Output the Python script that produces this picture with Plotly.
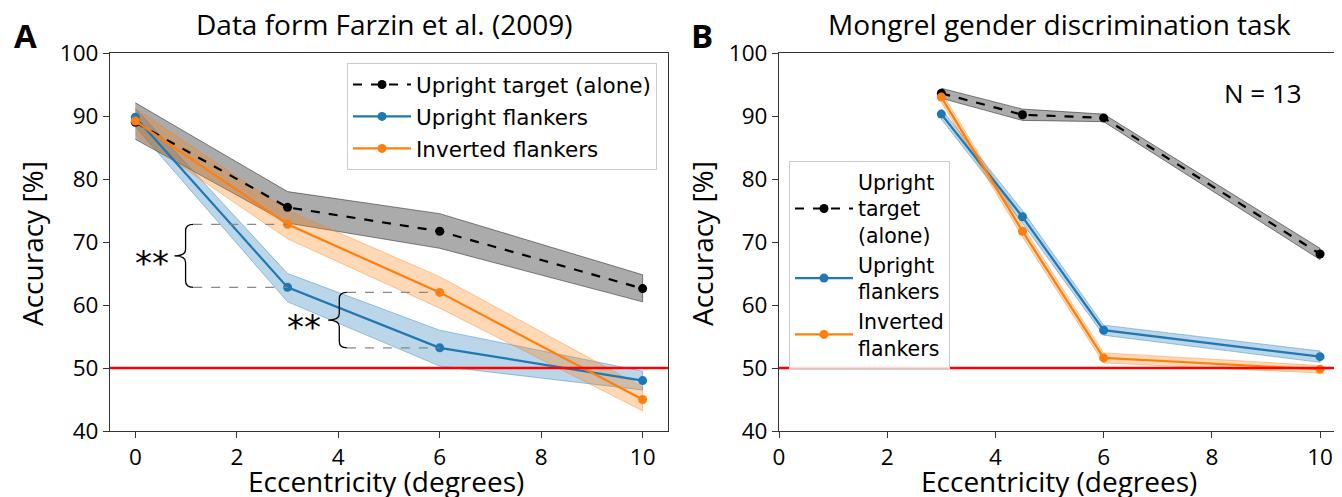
import plotly.graph_objects as go

# ---------------- data ----------------
# Panel A (Farzin et al. 2009)
ecc_a = [0, 3, 6, 10]
a_target_mean = [89.0, 75.5, 71.7, 62.6]
a_target_lo = [86.3, 73.0, 69.0, 60.5]
a_target_hi = [92.1, 78.0, 74.5, 64.8]
a_upright_mean = [89.8, 62.8, 53.2, 48.0]
a_upright_lo = [88.3, 60.5, 50.3, 46.5]
a_upright_hi = [91.2, 65.0, 56.0, 49.5]
a_inverted_mean = [89.2, 72.8, 62.0, 45.0]
a_inverted_lo = [87.0, 70.5, 59.5, 43.2]
a_inverted_hi = [91.2, 75.0, 64.5, 47.0]

# Panel B (Mongrel gender discrimination)
ecc_b = [3, 4.5, 6, 10]
b_target_mean = [93.6, 90.2, 89.7, 68.1]
b_target_lo = [92.8, 89.3, 89.1, 67.2]
b_target_hi = [94.4, 91.1, 90.3, 69.0]
b_upright_mean = [90.3, 74.0, 56.0, 51.8]
b_upright_lo = [89.5, 73.0, 55.2, 50.9]
b_upright_hi = [91.1, 75.0, 56.8, 52.7]
b_inverted_mean = [93.0, 71.7, 51.6, 49.8]
b_inverted_lo = [92.2, 70.8, 50.8, 49.2]
b_inverted_hi = [93.8, 72.6, 52.4, 50.4]

chance = 50
x_ticks = [0, 2, 4, 6, 8, 10]
y_ticks = [40, 50, 60, 70, 80, 90, 100]

names_a = ["Upright target (alone)", "Upright flankers", "Inverted flankers"]
names_b = ["Upright<br>target<br>(alone)", "Upright<br>flankers", "Inverted<br>flankers"]

# ---------------- styling ----------------
BLUE = "#1f77b4"
ORANGE = "#ff7f0e"
BLACK = "#000000"
band_fill = {BLACK: "rgba(0,0,0,0.33)", BLUE: "rgba(31,119,180,0.3)", ORANGE: "rgba(255,127,14,0.3)"}
band_edge = {BLACK: "rgba(0,0,0,0.45)", BLUE: "rgba(31,119,180,0.4)", ORANGE: "rgba(255,127,14,0.4)"}
TICK_FONT = dict(family="Open Sans", size=22.5, color="black")
TITLE_FONT = dict(family="Open Sans", size=28, color="black")
LEG_FONT = dict(family="DejaVu Sans", size=21.5, color="black")
LEG2_FONT = dict(family="DejaVu Sans", size=20.5, color="black")

# page body has an 8px margin: build the figure 8px smaller and shift coordinates
OFF = 8
W, H = 1342 - OFF, 497 - OFF


def px(v):
    return (v - OFF) / W


def py(v):
    return 1 - (v - OFF) / H


fig = go.Figure()


def add_panel(xs, series, names, xa, ya, legend):
    for (mean, lo, hi, color, dash) in series:
        fig.add_trace(go.Scatter(
            x=list(xs) + list(xs)[::-1], y=list(hi) + list(lo)[::-1],
            fill="toself", fillcolor=band_fill[color],
            line=dict(color=band_edge[color], width=1),
            mode="lines", hoverinfo="skip", showlegend=False,
            xaxis=xa, yaxis=ya))
    for i, (mean, lo, hi, color, dash) in enumerate(series):
        fig.add_trace(go.Scatter(
            x=xs, y=mean, mode="lines+markers", name=names[i],
            line=dict(color=color, width=2.2, dash=dash),
            marker=dict(color=color, size=9),
            legend=legend, legendgroup=f"{legend}{i}",
            xaxis=xa, yaxis=ya))


add_panel(ecc_a, [
    (a_target_mean, a_target_lo, a_target_hi, BLACK, "dash"),
    (a_upright_mean, a_upright_lo, a_upright_hi, BLUE, "solid"),
    (a_inverted_mean, a_inverted_lo, a_inverted_hi, ORANGE, "solid"),
], names_a, "x", "y", "legend")

add_panel(ecc_b, [
    (b_target_mean, b_target_lo, b_target_hi, BLACK, "dash"),
    (b_upright_mean, b_upright_lo, b_upright_hi, BLUE, "solid"),
    (b_inverted_mean, b_inverted_lo, b_inverted_hi, ORANGE, "solid"),
], names_b, "x2", "y2", "legend2")

shapes = []
for xr, yr in [("x domain", "y"), ("x2 domain", "y2")]:
    shapes.append(dict(type="line", xref=xr, yref=yr, x0=0, x1=1, y0=chance, y1=chance,
                       line=dict(color="red", width=2.5), layer="above"))


def brace(x0, ytop, ybot, xdata, tip=0.22, r=1.0, ext=0.15):
    ymid = (ytop + ybot) / 2
    xs = x0 + ext
    p = (f"M{xs},{ytop} Q{x0},{ytop} {x0},{ytop - r} L{x0},{ymid + r} "
         f"Q{x0},{ymid} {x0 - tip},{ymid} Q{x0},{ymid} {x0},{ymid - r} "
         f"L{x0},{ybot + r} Q{x0},{ybot} {xs},{ybot}")
    shapes.append(dict(type="path", path=p, xref="x", yref="y",
                       line=dict(color="black", width=1.3), layer="above"))
    for yv in (ytop, ybot):
        shapes.append(dict(type="line", xref="x", yref="y", x0=xs, x1=xdata, y0=yv, y1=yv,
                           line=dict(color="#888888", width=1.4, dash="dash"), layer="above"))
    return ymid


ym1 = brace(0.99, a_inverted_mean[1], a_upright_mean[1], ecc_a[1])
ym2 = brace(4.02, a_inverted_mean[2], a_upright_mean[2], ecc_a[2])


def pa(text, x, y, font, angle=0):
    return dict(text=text, x=px(x), y=py(y), xref="paper", yref="paper", showarrow=False,
                font=font, xanchor="center", yanchor="middle", textangle=angle)


STAR_FONT = dict(family="DejaVu Sans", size=34, color="black")
BIG_FONT = dict(family="Open Sans", size=33, color="black")
annotations = [
    dict(text="**", x=0.33, y=ym1, xref="x", yref="y", showarrow=False, font=STAR_FONT, yshift=-7),
    dict(text="**", x=3.32, y=ym2, xref="x", yref="y", showarrow=False, font=STAR_FONT, yshift=-7),
    pa("Data form Farzin et al. (2009)", 384, 24, TITLE_FONT),
    pa("Mongrel gender discrimination task", 1059, 24, TITLE_FONT),
    pa("<b>A</b>", 25, 36, BIG_FONT),
    pa("<b>B</b>", 702, 36, BIG_FONT),
    pa("N = 13", 1263, 93, dict(family="Open Sans", size=26, color="black")),
    pa("Eccentricity (degrees)", 386, 481, TITLE_FONT),
    pa("Eccentricity (degrees)", 1059, 481, TITLE_FONT),
    pa("Accuracy [%]", 32, 244, TITLE_FONT, -90),
    pa("Accuracy [%]", 702, 244, TITLE_FONT, -90),
]

axis_common = dict(showline=True, mirror=True, linecolor="#333333", linewidth=1.2,
                   ticks="outside", ticklen=6, tickwidth=1.2, tickcolor="#333333",
                   showgrid=False, zeroline=False, tickfont=TICK_FONT, automargin=False)

ydom = [py(431), py(53)]
fig.update_layout(
    width=W, height=H, margin=dict(l=0, r=0, t=0, b=0, autoexpand=False),
    paper_bgcolor="white", plot_bgcolor="white",
    xaxis=dict(domain=[px(110), px(668)], range=[-0.5, 10.5], tickvals=x_ticks, anchor="y", **axis_common),
    yaxis=dict(domain=ydom, range=[40, 100], tickvals=y_ticks, anchor="x", **axis_common),
    xaxis2=dict(domain=[px(779), px(1339)], range=[0, 10.35], tickvals=x_ticks, anchor="y2", **axis_common),
    yaxis2=dict(domain=ydom, range=[40, 100], tickvals=y_ticks, anchor="x2", **axis_common),
    legend=dict(x=px(347), y=py(63), xanchor="left", yanchor="top", font=LEG_FONT,
                bgcolor="rgba(255,255,255,0.85)", bordercolor="#cccccc", borderwidth=1,
                itemwidth=58, tracegroupgap=1),
    legend2=dict(x=px(789), y=py(161), xanchor="left", yanchor="top", font=LEG2_FONT,
                 bgcolor="rgba(255,255,255,0.85)", bordercolor="#cccccc", borderwidth=1,
                 itemwidth=58, tracegroupgap=0),
    shapes=shapes, annotations=annotations,
)

fig.write_html("out.html")
